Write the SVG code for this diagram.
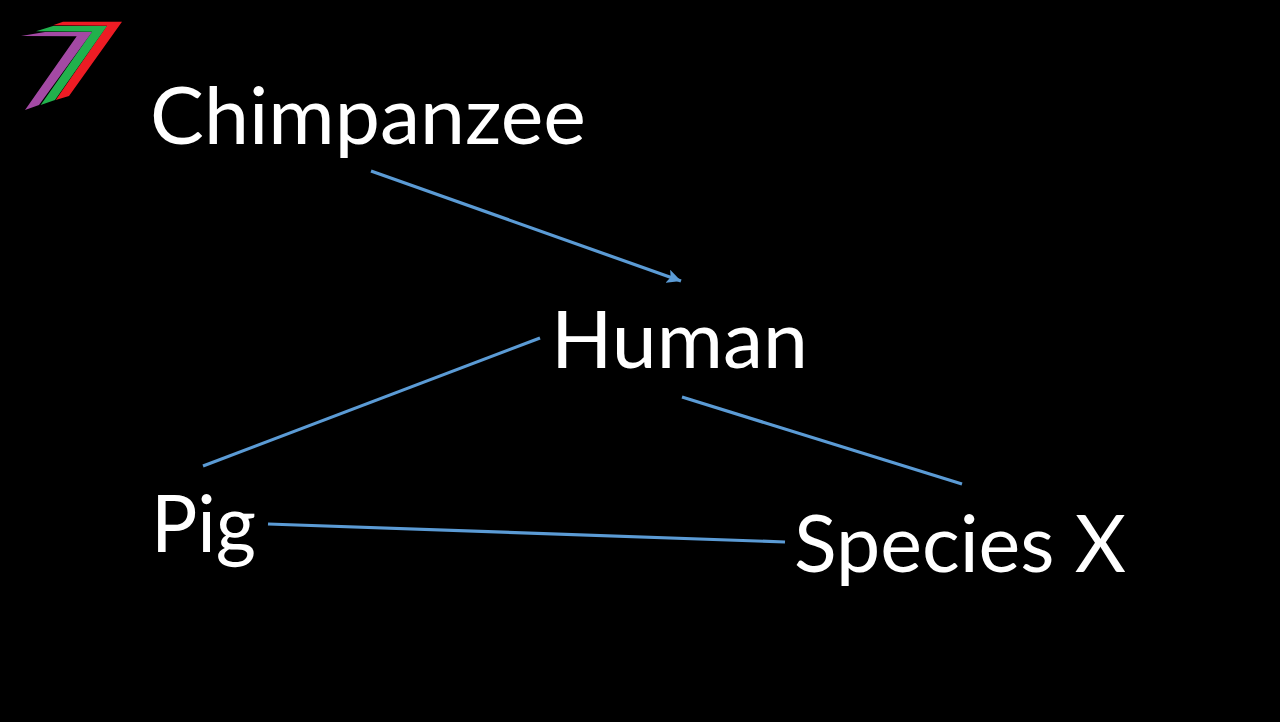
<svg xmlns="http://www.w3.org/2000/svg" width="1280" height="722" viewBox="0 0 1280 722">
<style>
text{font-family:"Lato","Open Sans","Liberation Sans",sans-serif;font-size:79px;fill:#fff}
.c{stroke:#5b9bd5;stroke-width:3.2;fill:none}
</style>
<defs><marker id="a" markerUnits="userSpaceOnUse" markerWidth="15" markerHeight="14" refX="14" refY="7" orient="auto"><path d="M0 0L14 7L0 14L3 7Z" fill="#5b9bd5"/></marker></defs>
<rect width="1280" height="722" fill="#000"/>
<g id="logo">
<path d="M53 25.3L63 21.7L122 21.7L69 96L55.7 100L107 25.7Z" fill="#ed1c24"/>
<path d="M36 31.3L53 26L107 26L55 100L40.7 105L92 31.7Z" fill="#22b14c"/>
<path d="M21 36L45 32L92 32L39 105L25 110L76.7 36.3Z" fill="#a349a4"/>
</g>
<g id="chimpanzee"><text x="150" y="144" textLength="436" lengthAdjust="spacingAndGlyphs">Chimpanzee</text></g>
<g id="human"><text x="551" y="368" textLength="257" lengthAdjust="spacingAndGlyphs">Human</text></g>
<g id="pig"><text x="151" y="552" textLength="105" lengthAdjust="spacingAndGlyphs">Pig</text></g>
<g id="speciesx"><text x="794" y="572" textLength="332" lengthAdjust="spacingAndGlyphs">Species X</text></g>
<g id="connectors">
<path class="c" d="M371 171L681 281" marker-end="url(#a)"/>
<path class="c" d="M540 338L203 466"/>
<path class="c" d="M682 397L962 484"/>
<path class="c" d="M268 524L785 542"/>
</g>
</svg>
